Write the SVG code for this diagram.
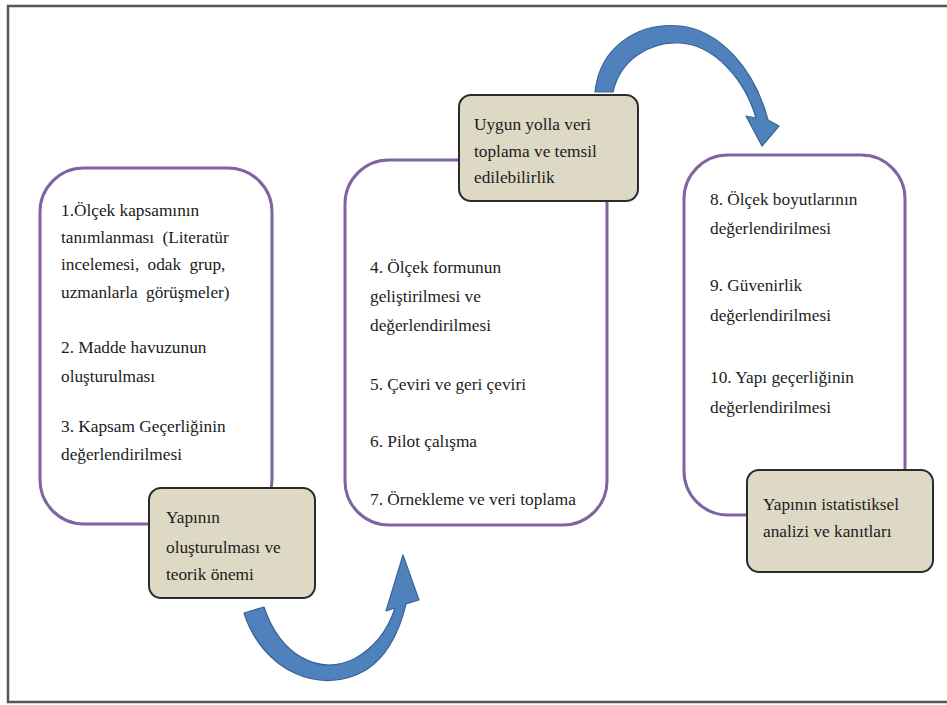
<svg xmlns="http://www.w3.org/2000/svg" width="947" height="705" viewBox="0 0 947 705">
  <style>
    .stage { fill: #ffffff; stroke: #8064a2; stroke-width: 3; }
    .label { fill: #ddd9c4; stroke: #2b2b2b; stroke-width: 2; }
    .txt { font-family: 'Liberation Serif', 'Times New Roman', serif; font-size: 17.3px; fill: #1c1c1c; }
    .wide { word-spacing: 4px; }
    .arrow { fill: #4f81bd; stroke: #3a6499; stroke-width: 1.2; stroke-linejoin: round; }
  </style>

  <rect x="0" y="0" width="947" height="705" fill="#ffffff"/>
  <!-- outer frame (open on the right) -->
  <path d="M 950 6 H 8 V 702 H 950" fill="none" stroke="#555555" stroke-width="2.5"/>

  <!-- stage 1 -->
  <g id="stage1">
    <rect class="stage" x="40" y="168" width="232" height="356" rx="44"/>
    <text class="txt">
      <tspan x="61" y="216">1.Ölçek kapsamının</tspan>
      <tspan x="61" y="243" class="wide">tanımlanması (Literatür</tspan>
      <tspan x="61" y="270" class="wide">incelemesi, odak grup,</tspan>
      <tspan x="61" y="298" class="wide">uzmanlarla görüşmeler)</tspan>
      <tspan x="61" y="353">2. Madde havuzunun</tspan>
      <tspan x="61" y="382">oluşturulması</tspan>
      <tspan x="61" y="432">3. Kapsam Geçerliğinin</tspan>
      <tspan x="61" y="460">değerlendirilmesi</tspan>
    </text>
  </g>

  <!-- stage 2 -->
  <g id="stage2">
    <rect class="stage" x="345" y="160" width="262" height="365" rx="44"/>
    <text class="txt">
      <tspan x="370" y="273">4. Ölçek formunun</tspan>
      <tspan x="370" y="302">geliştirilmesi ve</tspan>
      <tspan x="370" y="331">değerlendirilmesi</tspan>
      <tspan x="370" y="390">5. Çeviri ve geri çeviri</tspan>
      <tspan x="370" y="447">6. Pilot çalışma</tspan>
      <tspan x="370" y="505">7. Örnekleme  ve veri toplama</tspan>
    </text>
  </g>

  <!-- stage 3 -->
  <g id="stage3">
    <rect class="stage" x="684" y="155" width="221" height="360" rx="44"/>
    <text class="txt">
      <tspan x="710" y="205">8. Ölçek boyutlarının</tspan>
      <tspan x="710" y="234">değerlendirilmesi</tspan>
      <tspan x="710" y="291">9. Güvenirlik</tspan>
      <tspan x="710" y="321">değerlendirilmesi</tspan>
      <tspan x="710" y="383">10. Yapı geçerliğinin</tspan>
      <tspan x="710" y="413">değerlendirilmesi</tspan>
    </text>
  </g>

  <!-- captions for each stage -->
  <g id="caption1">
    <rect class="label" x="149" y="488" width="166" height="110" rx="12"/>
    <text class="txt">
      <tspan x="166" y="523">Yapının</tspan>
      <tspan x="166" y="553">oluşturulması ve</tspan>
      <tspan x="166" y="580">teorik önemi</tspan>
    </text>
  </g>

  <g id="caption2">
    <rect class="label" x="459" y="95" width="179" height="106" rx="12"/>
    <text class="txt">
      <tspan x="474" y="130">Uygun yolla veri</tspan>
      <tspan x="474" y="157">toplama ve temsil</tspan>
      <tspan x="474" y="183">edilebilirlik</tspan>
    </text>
  </g>

  <g id="caption3">
    <rect class="label" x="747" y="470" width="186" height="102" rx="12"/>
    <text class="txt">
      <tspan x="763" y="510">Yapının istatistiksel</tspan>
      <tspan x="763" y="537">analizi ve kanıtları</tspan>
    </text>
  </g>

  <!-- curved block arrows between stages -->
  <g id="connectors">
    <path class="arrow" d="M 244 613 C 262 670, 320 697, 366 670 C 386 657, 399 633, 406 604 L 419 600 L 403 555 L 386 611 L 395 608 C 388 630, 374 648, 354 659 C 318 676, 280 655, 264 607 Z"/>
    <path class="arrow" d="M 595 92 C 600 45, 640 22, 680 26 C 720 30, 755 70, 768 120 L 779 126 L 762 146 L 746 116 L 756 118 C 745 80, 715 45, 680 43 C 650 41, 620 60, 613 92 Z"/>
  </g>
</svg>
